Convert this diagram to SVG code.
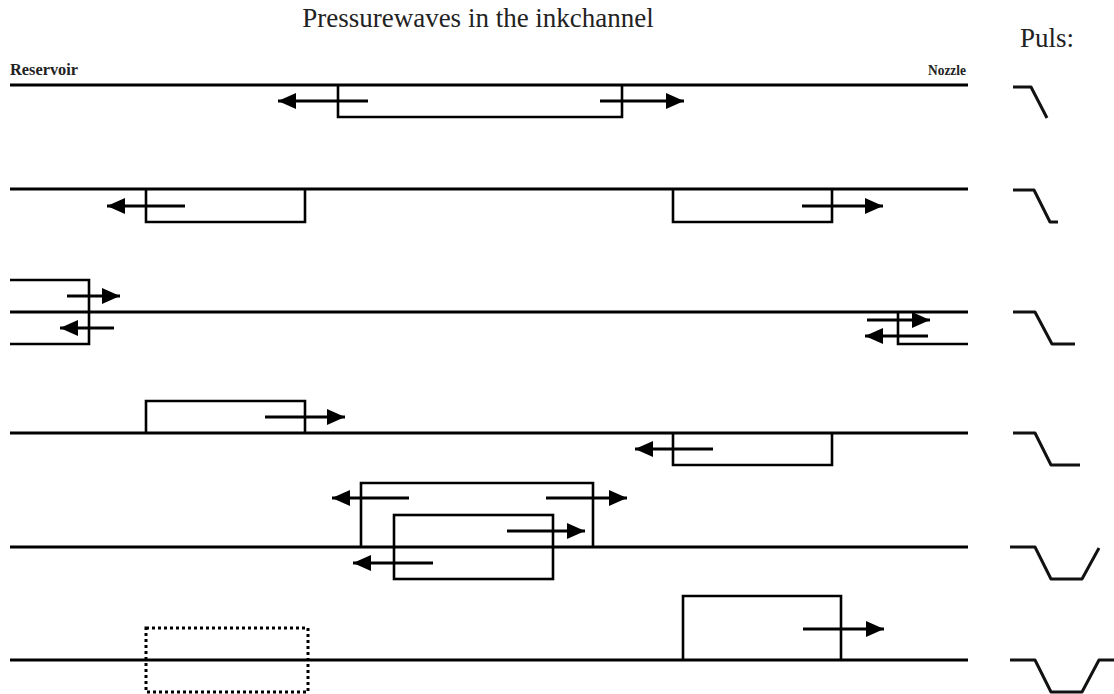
<svg xmlns="http://www.w3.org/2000/svg" width="1114" height="694" viewBox="0 0 1114 694">
<defs>
<marker id="ah" markerUnits="userSpaceOnUse" markerWidth="20" markerHeight="18" refX="18" refY="9" orient="auto">
<path d="M0,1 L18,9 L0,17 Z" fill="#000"/>
</marker>
</defs>
<style>
.ch{stroke:#000;stroke-width:3;fill:none}
.bx{stroke:#000;stroke-width:2.6;fill:none}
.ar{stroke:#000;stroke-width:3;fill:none;marker-end:url(#ah)}
.dt{stroke:#000;stroke-width:3;fill:none;stroke-dasharray:3 3}
.pl{stroke:#111;stroke-width:3;fill:none;stroke-linejoin:round}
.t{font-family:"Liberation Serif",serif;fill:#222}
</style>
<rect width="1114" height="694" fill="#fff"/>
<g id="title"><text class="t" x="478" y="27" font-size="27" text-anchor="middle">Pressurewaves in the inkchannel</text></g>
<g id="puls-label"><text class="t" x="1020" y="47" font-size="27">Puls:</text></g>
<g id="reservoir"><text class="t" x="10" y="75" font-size="16" font-weight="bold" textLength="68" lengthAdjust="spacingAndGlyphs">Reservoir</text></g>
<g id="nozzle"><text class="t" x="966" y="75" font-size="15" font-weight="bold" text-anchor="end" textLength="38" lengthAdjust="spacingAndGlyphs">Nozzle</text></g>

<g id="channels">
<line class="ch" x1="10" y1="85" x2="968" y2="85"/>
<line class="ch" x1="10" y1="189" x2="968" y2="189"/>
<line class="ch" x1="10" y1="312" x2="968" y2="312"/>
<line class="ch" x1="10" y1="433" x2="968" y2="433"/>
<line class="ch" x1="10" y1="547" x2="968" y2="547"/>
<line class="ch" x1="10" y1="660" x2="968" y2="660"/>
</g>

<g id="row1">
<polyline class="bx" points="338,85 338,117 622,117 622,85"/>
</g>
<g id="row2">
<polyline class="bx" points="146,189 146,222 305,222 305,189"/>
<polyline class="bx" points="673,189 673,222 832,222 832,189"/>
</g>
<g id="row3">
<polyline class="bx" points="10,280 89,280 89,344 10,344"/>
<polyline class="bx" points="898,312 898,344 968,344"/>
</g>
<g id="row4">
<polyline class="bx" points="146,433 146,401 305,401 305,433"/>
<polyline class="bx" points="673,433 673,465 832,465 832,433"/>
</g>
<g id="row5">
<polyline class="bx" points="361,547 361,483 593,483 593,547"/>
<rect class="bx" x="394" y="515" width="159" height="64"/>
</g>
<g id="row6">
<rect class="dt" x="146" y="628" width="162" height="64"/>
<polyline class="bx" points="683,660 683,596 841,596 841,660"/>
</g>

<g id="arrows">
<line class="ar" x1="368" y1="101" x2="278" y2="101"/>
<line class="ar" x1="600" y1="101" x2="684" y2="101"/>
<line class="ar" x1="185" y1="206" x2="107" y2="206"/>
<line class="ar" x1="802" y1="206" x2="883" y2="206"/>
<line class="ar" x1="67" y1="296" x2="120" y2="296"/>
<line class="ar" x1="114" y1="328" x2="60" y2="328"/>
<line class="ar" x1="867" y1="320" x2="930" y2="320"/>
<line class="ar" x1="928" y1="336" x2="865" y2="336"/>
<line class="ar" x1="265" y1="417" x2="345" y2="417"/>
<line class="ar" x1="713" y1="449" x2="635" y2="449"/>
<line class="ar" x1="409" y1="498" x2="332" y2="498"/>
<line class="ar" x1="546" y1="498" x2="627" y2="498"/>
<line class="ar" x1="507" y1="531" x2="585" y2="531"/>
<line class="ar" x1="433" y1="563" x2="353" y2="563"/>
<line class="ar" x1="803" y1="629" x2="884" y2="629"/>
</g>

<g id="pulses">
<polyline class="pl" points="1013,87 1031,87 1047,118"/>
<polyline class="pl" points="1013,190 1034,190 1050,222 1058,222"/>
<polyline class="pl" points="1013,312 1035,312 1052,344 1075,344"/>
<polyline class="pl" points="1013,433 1035,433 1051,465 1080,465"/>
<polyline class="pl" points="1010,547 1035,547 1051,579 1082,579 1099,548"/>
<polyline class="pl" points="1010,660 1035,660 1051,692 1082,692 1099,660 1114,660"/>
</g>
</svg>
